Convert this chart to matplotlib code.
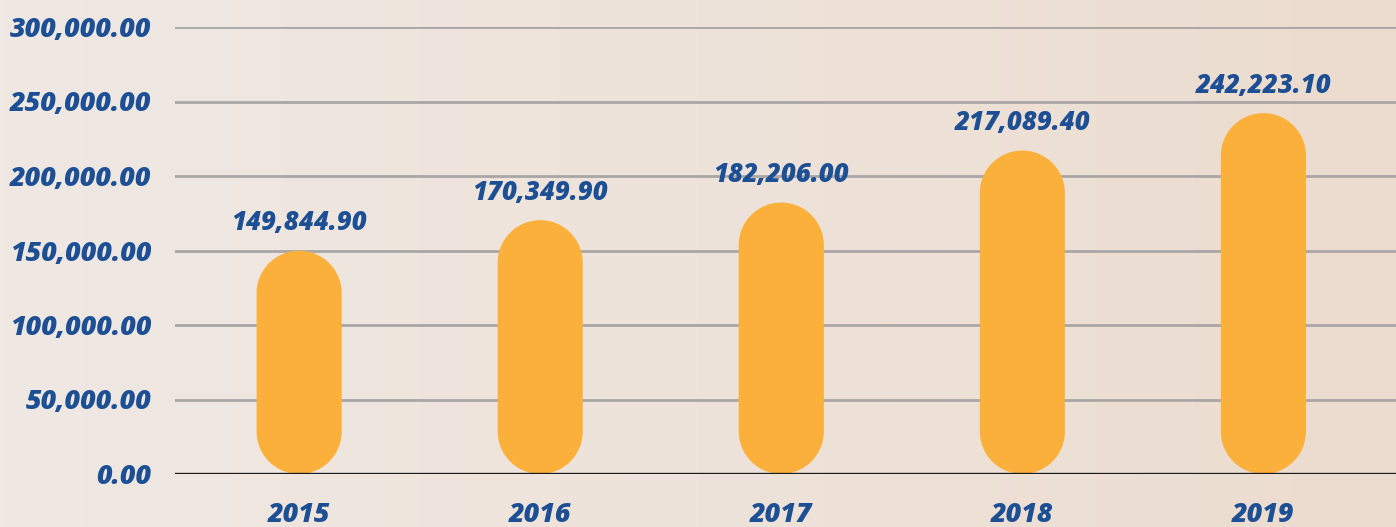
import numpy as np
import matplotlib
matplotlib.use("Agg")
import matplotlib.pyplot as plt
from matplotlib.patches import Polygon
from matplotlib.ticker import FuncFormatter
from matplotlib.colors import LinearSegmentedColormap

# Datos
years = ["2015", "2016", "2017", "2018", "2019"]
values = [149844.90, 170349.90, 182206.00, 217089.40, 242223.10]
y_ticks = [0, 50000, 100000, 150000, 200000, 250000, 300000]

blue = "#1d4f94"
orange = "#fbb03b"
plt.rcParams['font.family'] = ['Open Sans', 'Noto Sans', 'DejaVu Sans']

fig = plt.figure(figsize=(13.96, 5.27), dpi=100)

# Fondo con un degradado suave
bg = fig.add_axes([0, 0, 1, 1], zorder=-1)
grad = np.linspace(0, 1, 256)[None, :]
cmap = LinearSegmentedColormap.from_list("bg", ["#efe8e3", "#eee3da", "#ecdccf"])
bg.imshow(grad, aspect="auto", cmap=cmap, extent=[0, 1, 0, 1])
bg.axis("off")

ax = fig.add_axes([175 / 1396, 53 / 527, 1 - 175 / 1396, 447 / 527])
ax.patch.set_alpha(0)
ax.set_xlim(-0.515, 4.55)
ax.set_ylim(0, 300000)

# Rejilla
for t in y_ticks[1:]:
    ax.axhline(t, color="#a9a6a6", lw=2, zorder=1)
ax.axhline(0, color="#1a1a1a", lw=2.4, zorder=3)

# Barras redondeadas (forma de píldora) calculadas en píxeles
fig.canvas.draw()
px_x = ax.transData.transform([(1, 0)])[0][0] - ax.transData.transform([(0, 0)])[0][0]
px_y = ax.transData.transform([(0, 1000)])[0][1] - ax.transData.transform([(0, 0)])[0][1]
px_y = px_y / 1000
width = 0.353
rx = width / 2
ry = rx * px_x / px_y
th = np.linspace(0, np.pi, 60)
for i, v in enumerate(values):
    top = np.column_stack([i + rx * np.cos(th), v - ry + ry * np.sin(th)])
    bot = np.column_stack([i - rx * np.cos(th), ry - ry * np.sin(th)])
    ax.add_patch(Polygon(np.vstack([top, bot]), closed=True, fc=orange, ec="none", zorder=2))
    ax.annotate(f"{v:,.2f}", (i, v), xytext=(0, 10.5), textcoords="offset points",
                ha="center", va="bottom", fontsize=18.5, fontweight=800,
                fontstyle="italic", color=blue)

ax.set_xticks(range(len(years)))
ax.set_xticklabels(years)
ax.set_yticks(y_ticks)
ax.yaxis.set_major_formatter(FuncFormatter(lambda v, p: f"{v:,.2f}"))
ax.tick_params(length=0, labelsize=19.4, labelcolor=blue)
ax.tick_params(axis="y", pad=17)
ax.tick_params(axis="x", pad=20.5)
for lab in ax.get_xticklabels() + ax.get_yticklabels():
    lab.set_fontweight(800)
    lab.set_fontstyle("italic")
for s in ax.spines.values():
    s.set_visible(False)

fig.savefig("out.png", dpi=100)
